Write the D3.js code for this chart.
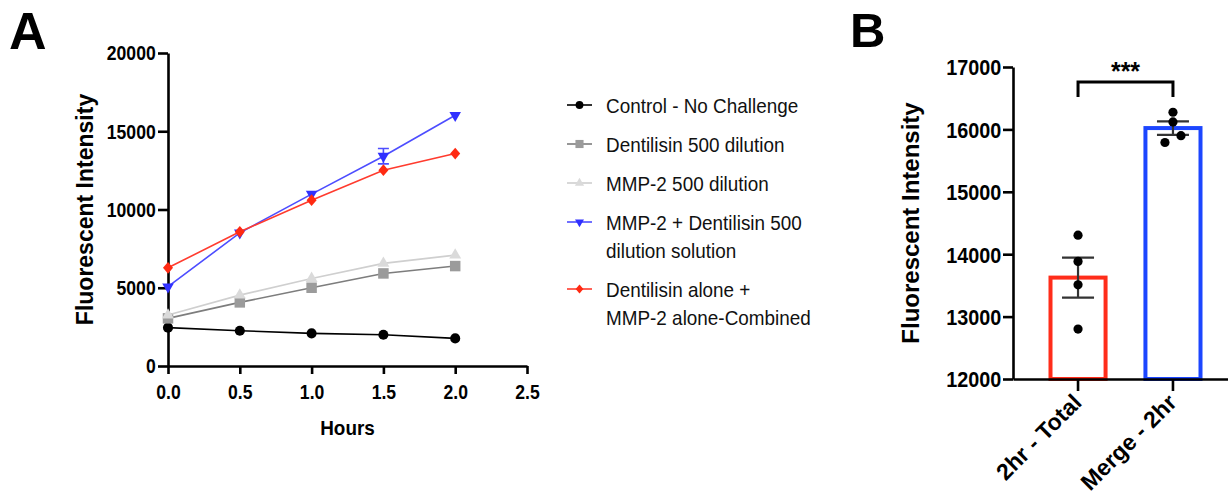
<!DOCTYPE html>
<html>
<head>
<meta charset="utf-8">
<script src="https://cdn.jsdelivr.net/npm/d3@7"></script>
<style>
  html, body { margin: 0; padding: 0; background: #fff; }
  svg { display: block; font-family: "Liberation Sans", Arial, Helvetica, sans-serif; }
</style>
</head>
<body>
<div id="chart"></div>
<script>
// panel A: time course
const hours = [0, 0.5, 1.0, 1.5, 2.0];
const xTicksA = [0, 0.5, 1.0, 1.5, 2.0, 2.5];
const yTicksA = [0, 5000, 10000, 15000, 20000];
const controlValues = [2450, 2255, 2085, 2000, 1765];
const dentilisinValues = [3045, 4065, 5000, 5915, 6385];
const mmp2Values = [3255, 4530, 5595, 6555, 7085];
const mixValues = [5065, 8510, 10980, 13405, 16020];
const mixErrors = [0, 0, 0, 490, 0];
const combinedValues = [6275, 8575, 10595, 12510, 13575];
const legendLabels = [
  ['Control - No Challenge'],
  ['Dentilisin 500 dilution'],
  ['MMP-2 500 dilution'],
  ['MMP-2 + Dentilisin 500', 'dilution solution'],
  ['Dentilisin alone +', 'MMP-2 alone-Combined']
];

// panel B: 2 hr comparison
const groupNames = ['2hr - Total', 'Merge - 2hr'];
const totalPoints = [14305, 13885, 13510, 12800];
const mergePoints = [16275, 16120, 15790, 15900];
const yTicksB = [12000, 13000, 14000, 15000, 16000, 17000];
const bracketLevel = 16760;
const bracketDrop = 16520;
const significance = '***';

const width = 1228;
const height = 500;
const squeeze = 0.88;

const svg = d3.select('#chart')
  .append('svg')
  .attr('width', width)
  .attr('height', height)
  .attr('viewBox', `0 0 ${width} ${height}`);

svg.append('rect').attr('width', width).attr('height', height).attr('fill', '#fff');

// custom symbols
const diamond = {
  draw(context, size) {
    const h = Math.sqrt(size) * 0.62;
    const w = h * 0.85;
    context.moveTo(0, -h);
    context.lineTo(w, 0);
    context.lineTo(0, h);
    context.lineTo(-w, 0);
    context.closePath();
  }
};
const triangleDown = {
  draw(context, size) {
    const s = Math.sqrt(size / (Math.sqrt(3) / 4));
    const hh = s * Math.sqrt(3) / 2;
    context.moveTo(-s / 2, -hh / 3);
    context.lineTo(s / 2, -hh / 3);
    context.lineTo(0, hh * 2 / 3);
    context.closePath();
  }
};
const triangleUp = {
  draw(context, size) {
    const s = Math.sqrt(size / (Math.sqrt(3) / 4));
    const hh = s * Math.sqrt(3) / 2;
    context.moveTo(-s / 2, hh / 3);
    context.lineTo(s / 2, hh / 3);
    context.lineTo(0, -hh * 2 / 3);
    context.closePath();
  }
};

const series = [
  { values: controlValues, line: '#000000', fill: '#000000', type: d3.symbolCircle, size: 80 },
  { values: dentilisinValues, line: '#7d7d7d', fill: '#9b9b9b', type: d3.symbolSquare, size: 110 },
  { values: mmp2Values, line: '#cfcfcf', fill: '#dadada', type: triangleUp, size: 62 },
  { values: mixValues, line: '#4d4dff', fill: '#3030ff', type: triangleDown, size: 58, errors: mixErrors },
  { values: combinedValues, line: '#ff3b2e', fill: '#ff2a12', type: diamond, size: 90 }
];

// ---------- panel A ----------
const xA = d3.scaleLinear().domain([0, 2.5]).range([168, 527]);
const yA = d3.scaleLinear().domain([0, 20000]).range([366, 53]);

const panelA = svg.append('g');

const yAxisA = panelA.append('g')
  .attr('transform', `translate(${xA(0)},0)`)
  .call(d3.axisLeft(yA).tickValues(yTicksA).tickSize(10).tickSizeOuter(0).tickFormat(d3.format('d')));
yAxisA.selectAll('text')
  .attr('x', -14)
  .attr('dy', '0.34em')
  .attr('transform', `scale(${squeeze},1)`);

const xAxisA = panelA.append('g')
  .attr('transform', `translate(0,${yA(0)})`)
  .call(d3.axisBottom(xA).tickValues(xTicksA).tickSize(8).tickPadding(11).tickSizeOuter(0).tickFormat(d3.format('.1f')));
xAxisA.selectAll('text').attr('transform', `scale(${squeeze},1)`);

[yAxisA, xAxisA].forEach((axis) => {
  axis.select('.domain').attr('stroke', '#000').attr('stroke-width', 2.6);
  axis.selectAll('.tick line').attr('stroke', '#000').attr('stroke-width', 2.6);
  axis.selectAll('text')
    .attr('fill', '#000')
    .attr('font-size', 20)
    .attr('font-weight', 'bold')
    .attr('font-family', '"Liberation Sans", Arial, sans-serif');
});

panelA.append('text')
  .attr('transform', `translate(${(xA(0) + xA(2.5)) / 2},435) scale(0.9,1)`)
  .attr('text-anchor', 'middle')
  .attr('font-size', 21)
  .attr('font-weight', 'bold')
  .text('Hours');

panelA.append('text')
  .attr('transform', `translate(93,${(yA(0) + yA(20000)) / 2}) rotate(-90)`)
  .attr('text-anchor', 'middle')
  .attr('font-size', 23)
  .attr('font-weight', 'bold')
  .text('Fluorescent Intensity');

const line = d3.line()
  .x((d, i) => xA(hours[i]))
  .y((d) => yA(d));

series.forEach((s) => {
  const g = panelA.append('g');
  g.append('path')
    .attr('d', line(s.values))
    .attr('fill', 'none')
    .attr('stroke', s.line)
    .attr('stroke-width', 1.6);

  if (s.errors) {
    s.values.forEach((v, i) => {
      const e = s.errors[i];
      if (!e) return;
      const cx = xA(hours[i]);
      g.append('path')
        .attr('d', `M${cx},${yA(v - e)}V${yA(v + e)}M${cx - 5.5},${yA(v + e)}H${cx + 5.5}M${cx - 5.5},${yA(v - e)}H${cx + 5.5}`)
        .attr('fill', 'none')
        .attr('stroke', s.line)
        .attr('stroke-width', 1.6);
    });
  }

  g.selectAll('path.marker')
    .data(s.values)
    .enter()
    .append('path')
    .attr('class', 'marker')
    .attr('transform', (d, i) => `translate(${xA(hours[i])},${yA(d)})`)
    .attr('d', d3.symbol().type(s.type).size(s.size))
    .attr('fill', s.fill);
});

// legend
const legend = panelA.append('g');
let legendY = 105;
legendLabels.forEach((lines, i) => {
  const s = series[i];
  const row = legend.append('g').attr('transform', `translate(0,${legendY})`);
  row.append('line')
    .attr('x1', 567).attr('x2', 592)
    .attr('stroke', s.line)
    .attr('stroke-width', 1.6);
  row.append('path')
    .attr('transform', 'translate(579.5,0)')
    .attr('d', d3.symbol().type(s.type).size(s.size * 0.6))
    .attr('fill', s.fill);
  lines.forEach((t, k) => {
    row.append('text')
      .attr('transform', `translate(606,${k * 28}) scale(0.9,1)`)
      .attr('dy', '0.36em')
      .attr('font-size', 21)
      .attr('fill', '#111')
      .text(t);
  });
  legendY += 39 + (lines.length - 1) * 28;
});

// ---------- panel B ----------
const xB = d3.scaleBand()
  .domain(groupNames)
  .range([1013, 1238])
  .paddingInner(0.42)
  .paddingOuter(0.395);
const yB = d3.scaleLinear().domain([12000, 17000]).range([379, 67]);

const panelB = svg.append('g');
const groups = [
  { name: groupNames[0], points: totalPoints, color: '#ff2d1a' },
  { name: groupNames[1], points: mergePoints, color: '#1c46ff' }
];

groups.forEach((grp) => {
  grp.mean = d3.mean(grp.points);
  grp.sem = d3.deviation(grp.points) / Math.sqrt(grp.points.length);
});

panelB.selectAll('rect.bar')
  .data(groups)
  .enter()
  .append('rect')
  .attr('class', 'bar')
  .attr('x', (d) => xB(d.name))
  .attr('y', (d) => yB(d.mean))
  .attr('width', xB.bandwidth())
  .attr('height', (d) => yB(12000) - yB(d.mean))
  .attr('fill', '#fff')
  .attr('stroke', (d) => d.color)
  .attr('stroke-width', 4);

const capHalf = 16;
groups.forEach((grp) => {
  const cx = xB(grp.name) + xB.bandwidth() / 2;
  const top = yB(grp.mean + grp.sem);
  const bottom = yB(grp.mean - grp.sem);
  panelB.append('path')
    .attr('d', `M${cx},${bottom}V${top}M${cx - capHalf},${top}H${cx + capHalf}M${cx - capHalf},${bottom}H${cx + capHalf}`)
    .attr('fill', 'none')
    .attr('stroke', '#333')
    .attr('stroke-width', 2.2);
});

// spread overlapping dots sideways
function spread(values, r, step) {
  const ys = values.map(yB);
  return ys.map((y, i) => {
    const close = ys.map((o, j) => j).filter((j) => Math.abs(ys[j] - y) < 2 * r);
    if (close.length < 2) return 0;
    const k = close.indexOf(i);
    return (k - (close.length - 1) / 2) * step;
  });
}

groups.forEach((grp) => {
  const cx = xB(grp.name) + xB.bandwidth() / 2;
  const offsets = spread(grp.points, 4.6, 16);
  panelB.selectAll(null)
    .data(grp.points)
    .enter()
    .append('circle')
    .attr('cx', (d, i) => cx + offsets[i])
    .attr('cy', (d) => yB(d))
    .attr('r', 4.6)
    .attr('fill', '#000');
});

const yAxisB = panelB.append('g')
  .attr('transform', `translate(${xB.range()[0]},0)`)
  .call(d3.axisLeft(yB).tickValues(yTicksB).tickSize(10).tickSizeOuter(0).tickFormat(d3.format('d')));
yAxisB.selectAll('text')
  .attr('x', -13)
  .attr('dy', '0.36em')
  .attr('transform', 'scale(0.9,1)');

const xAxisB = panelB.append('g')
  .attr('transform', `translate(0,${yB(12000)})`)
  .call(d3.axisBottom(xB).tickSize(12).tickSizeOuter(0));
xAxisB.selectAll('text')
  .attr('x', 0)
  .attr('y', 0)
  .attr('dy', 0)
  .attr('text-anchor', 'end')
  .attr('transform', 'translate(5,25) rotate(-45)');

[yAxisB, xAxisB].forEach((axis) => {
  axis.select('.domain').attr('stroke', '#000').attr('stroke-width', 2.6);
  axis.selectAll('.tick line').attr('stroke', '#000').attr('stroke-width', 2.6);
  axis.selectAll('text')
    .attr('fill', '#000')
    .attr('font-weight', 'bold')
    .attr('font-family', '"Liberation Sans", Arial, sans-serif');
});
yAxisB.selectAll('text').attr('font-size', 22);
xAxisB.selectAll('text').attr('font-size', 23);

panelB.append('text')
  .attr('transform', `translate(919,${(yB(12000) + yB(17000)) / 2}) rotate(-90)`)
  .attr('text-anchor', 'middle')
  .attr('font-size', 24)
  .attr('font-weight', 'bold')
  .text('Fluorescent Intensity');

// significance bracket
const bx0 = xB(groupNames[0]) + xB.bandwidth() / 2;
const bx1 = xB(groupNames[1]) + xB.bandwidth() / 2;
panelB.append('path')
  .attr('d', `M${bx0},${yB(bracketDrop)}V${yB(bracketLevel)}H${bx1}V${yB(bracketDrop)}`)
  .attr('fill', 'none')
  .attr('stroke', '#000')
  .attr('stroke-width', 3);
panelB.append('text')
  .attr('x', (bx0 + bx1) / 2)
  .attr('y', yB(bracketLevel) - 2)
  .attr('text-anchor', 'middle')
  .attr('font-size', 25)
  .attr('font-weight', 'bold')
  .text(significance);

// panel letters
svg.append('text')
  .attr('x', 9)
  .attr('y', 49)
  .attr('font-size', 52)
  .attr('font-weight', 'bold')
  .text('A');
svg.append('text')
  .attr('x', 850)
  .attr('y', 47)
  .attr('font-size', 49)
  .attr('font-weight', 'bold')
  .text('B');
</script>
</body>
</html>
